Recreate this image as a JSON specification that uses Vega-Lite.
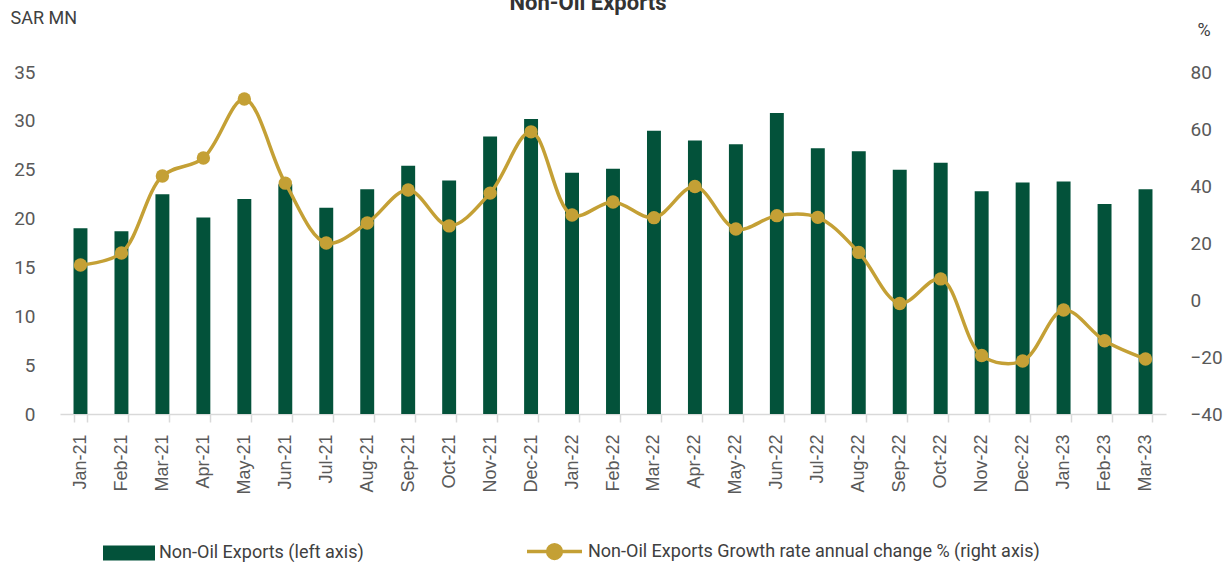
{
  "$schema": "https://vega.github.io/schema/vega-lite/v6.json",
  "width": 1106,
  "height": 342,
  "autosize": {"type": "none"},
  "padding": {"left": 60, "top": 72, "right": 65, "bottom": 148},
  "background": "white",
  "title": {"text": "Non-Oil Exports", "font": "Roboto", "fontSize": 22, "fontWeight": "bold", "color": "#333333", "offset": 0, "dy": 6, "dx": -25},
  "config": {"view": {"stroke": null}, "font": "Roboto"},
  "data": {"values": [
    {"month": "Jan-21", "exports": 19.0, "growth": 12.3},
    {"month": "Feb-21", "exports": 18.7, "growth": 16.5},
    {"month": "Mar-21", "exports": 22.5, "growth": 43.5},
    {"month": "Apr-21", "exports": 20.1, "growth": 49.8},
    {"month": "May-21", "exports": 22.0, "growth": 70.5},
    {"month": "Jun-21", "exports": 23.5, "growth": 41.0},
    {"month": "Jul-21", "exports": 21.1, "growth": 20.0},
    {"month": "Aug-21", "exports": 23.0, "growth": 27.0},
    {"month": "Sep-21", "exports": 25.4, "growth": 38.6},
    {"month": "Oct-21", "exports": 23.9, "growth": 26.0},
    {"month": "Nov-21", "exports": 28.4, "growth": 37.5},
    {"month": "Dec-21", "exports": 30.2, "growth": 59.0},
    {"month": "Jan-22", "exports": 24.7, "growth": 29.8},
    {"month": "Feb-22", "exports": 25.1, "growth": 34.4},
    {"month": "Mar-22", "exports": 29.0, "growth": 28.9},
    {"month": "Apr-22", "exports": 28.0, "growth": 39.8},
    {"month": "May-22", "exports": 27.6, "growth": 24.9},
    {"month": "Jun-22", "exports": 30.8, "growth": 29.6},
    {"month": "Jul-22", "exports": 27.2, "growth": 29.0},
    {"month": "Aug-22", "exports": 26.9, "growth": 16.7},
    {"month": "Sep-22", "exports": 25.0, "growth": -1.2},
    {"month": "Oct-22", "exports": 25.7, "growth": 7.4},
    {"month": "Nov-22", "exports": 22.8, "growth": -19.5},
    {"month": "Dec-22", "exports": 23.7, "growth": -21.4},
    {"month": "Jan-23", "exports": 23.8, "growth": -3.5},
    {"month": "Feb-23", "exports": 21.5, "growth": -14.3},
    {"month": "Mar-23", "exports": 23.0, "growth": -20.7}
  ]},
  "encoding": {
    "x": {
      "field": "month", "type": "nominal", "sort": null, "title": null,
      "scale": {"paddingInner": 0.66, "paddingOuter": 0.33},
      "axis": {
        "labelAngle": -90, "labelAlign": "right", "labelBaseline": "middle",
        "labelFont": "Liberation Sans", "labelFontSize": 18, "labelColor": "#595959",
        "labelPadding": 12, "tickBand": "extent", "tickSize": 8, "tickColor": "#D9D9D9", "tickWidth": 1.5,
        "domainColor": "#D9D9D9", "domainWidth": 1.5, "grid": false
      }
    }
  },
  "layer": [
    {
      "mark": {"type": "bar"},
      "encoding": {
        "y": {
          "field": "exports", "type": "quantitative",
          "scale": {"domain": [0, 35]},
          "axis": {
            "orient": "left", "values": [0, 5, 10, 15, 20, 25, 30, 35], "grid": false, "ticks": false, "domain": false,
            "labelFontSize": 19, "labelColor": "#595959", "labelPadding": 25,
            "title": "SAR MN", "titleAngle": 0, "titleAlign": "left", "titleBaseline": "middle",
            "titleX": -50, "titleY": -54, "titleFontSize": 18, "titleFontWeight": "normal", "titleColor": "#404040"
          }
        },
        "fill": {
          "datum": "Non-Oil Exports (left axis)", "type": "nominal",
          "scale": {"range": ["#03523A"]},
          "legend": {
            "title": null, "orient": "none", "legendX": 43, "legendY": 455,
            "symbolType": "M-1,-0.29H1V0.29H-1Z", "symbolSize": 2704, "symbolStrokeWidth": 0,
            "labelFontSize": 18, "labelColor": "#404040", "labelOffset": 4, "labelLimit": 600
          }
        }
      }
    },
    {
      "encoding": {
        "y": {
          "field": "growth", "type": "quantitative",
          "scale": {"domain": [-40, 80]},
          "axis": {
            "orient": "right", "values": [-40, -20, 0, 20, 40, 60, 80], "grid": false, "ticks": false, "domain": false,
            "labelFontSize": 19, "labelColor": "#595959", "labelPadding": 24,
            "title": "%", "titleAngle": 0, "titleAlign": "left", "titleBaseline": "middle",
            "titleX": 31, "titleY": -42, "titleFontSize": 18, "titleFontWeight": "normal", "titleColor": "#404040"
          }
        }
      },
      "layer": [
        {
          "mark": {"type": "line", "interpolate": "catmull-rom", "strokeWidth": 3.5},
          "encoding": {
            "stroke": {
              "datum": "Non-Oil Exports Growth rate annual change % (right axis)", "type": "nominal",
              "scale": {"range": ["#C4A035"]},
              "legend": {
                "title": null, "orient": "none", "legendX": 465, "legendY": 450,
                "symbolType": "M-1,0H1M0.25,0A0.25,0.25 0 1 1 -0.25,0A0.25,0.25 0 1 1 0.25,0Z",
                "symbolSize": 3025, "symbolStrokeWidth": 3.5, "symbolFillColor": "#C4A035", "symbolStrokeColor": "#C4A035",
                "labelFontSize": 18, "labelColor": "#404040", "labelOffset": 4, "labelLimit": 800
              }
            }
          }
        },
        {
          "mark": {"type": "point", "filled": true, "size": 180, "color": "#C4A035", "opacity": 1}
        }
      ]
    }
  ],
  "resolve": {"scale": {"y": "independent"}}
}
